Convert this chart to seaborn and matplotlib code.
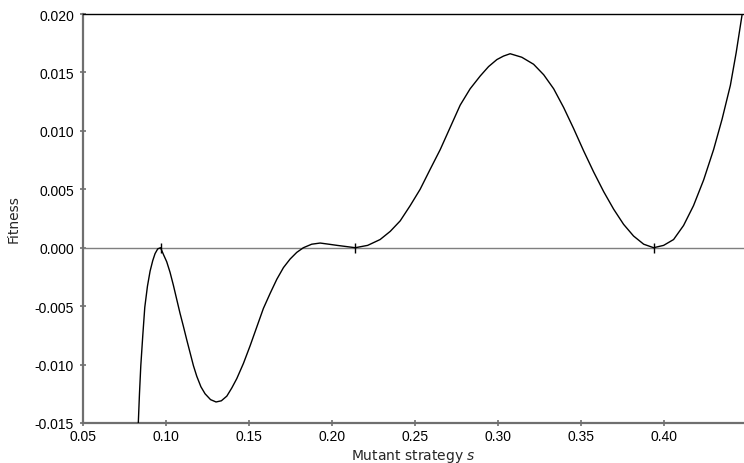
import matplotlib
matplotlib.use("Agg")
import matplotlib.pyplot as plt
import matplotlib.ticker as mticker
import seaborn as sns
import pandas as pd

# Data
strategy = [0.0833, 0.0840, 0.0848, 0.0860, 0.0872, 0.0888, 0.0904, 0.0920, 0.0934, 0.0950,
            0.0967, 0.0985, 0.1004, 0.1024, 0.1044, 0.1064, 0.1084, 0.1104, 0.1125, 0.1145,
            0.1165, 0.1185, 0.1210, 0.1235, 0.1268, 0.1301, 0.1333, 0.1366, 0.1396, 0.1426,
            0.1466, 0.1506, 0.1546, 0.1586, 0.1627, 0.1667, 0.1707, 0.1747, 0.1787, 0.1827,
            0.1877, 0.1928, 0.1980, 0.2030, 0.2085, 0.2139, 0.2214, 0.2289, 0.2350, 0.2410,
            0.2470, 0.2530, 0.2590, 0.2651, 0.2711, 0.2771, 0.2831, 0.2892, 0.2942, 0.2992,
            0.3032, 0.3072, 0.3142, 0.3213, 0.3274, 0.3334, 0.3394, 0.3454, 0.3514, 0.3574,
            0.3635, 0.3695, 0.3755, 0.3815, 0.3876, 0.3936, 0.3996, 0.4056, 0.4116, 0.4176,
            0.4237, 0.4297, 0.4348, 0.4398, 0.4433, 0.4468]
fitness = [-0.0150, -0.0125, -0.0101, -0.0075, -0.0051, -0.0033, -0.0020, -0.0011, -0.0005, -0.0001,
           0.0000, -0.0006, -0.0012, -0.0021, -0.0032, -0.0044, -0.0056, -0.0067, -0.0079, -0.0090,
           -0.0101, -0.0110, -0.0119, -0.0125, -0.0130, -0.0132, -0.0131, -0.0127, -0.0120, -0.0112,
           -0.0099, -0.0084, -0.0068, -0.0052, -0.0039, -0.0027, -0.0017, -0.00097, -0.0004, 0.0000,
           0.0003, 0.0004, 0.0003, 0.0002, 0.0001, 0.0000, 0.0002, 0.0007, 0.0014, 0.0023,
           0.0036, 0.0050, 0.0067, 0.0084, 0.0103, 0.0122, 0.0136, 0.0147, 0.0155, 0.0161,
           0.0164, 0.0166, 0.0163, 0.0157, 0.0148, 0.0136, 0.0120, 0.0102, 0.0083, 0.0065,
           0.0048, 0.0033, 0.0020, 0.0010, 0.0003, 0.0000, 0.0002, 0.0007, 0.0019, 0.0036,
           0.0058, 0.0084, 0.0110, 0.0139, 0.0167, 0.0199]
singular_points = [0.0967, 0.2139, 0.3936]
x_ticks = [0.05, 0.10, 0.15, 0.20, 0.25, 0.30, 0.35, 0.40]
y_ticks = [-0.015, -0.010, -0.005, 0.000, 0.005, 0.010, 0.015, 0.020]

df = pd.DataFrame({"s": strategy, "fitness": fitness})

sns.set_theme(style="white")
plt.rcParams["font.family"] = ["Liberation Sans", "DejaVu Sans"]

fig = plt.figure(figsize=(7.44, 4.64), dpi=100)
ax = fig.add_axes([83/744, 40/464, 1 - 83/744, (424 - 15)/464])

ax.axhline(0, color="#7f7f7f", lw=1.0, zorder=1)
sns.lineplot(data=df, x="s", y="fitness", ax=ax, color="black", lw=1.0, zorder=3)
ax.plot(singular_points, [0] * len(singular_points), linestyle="none", marker="|",
        markersize=7, markeredgewidth=1.0, color="black", zorder=4)

ax.set_xlim(0.05, 0.448)
ax.set_ylim(-0.015, 0.020)
ax.set_xticks(x_ticks)
ax.set_yticks(y_ticks)
ax.xaxis.set_major_formatter(mticker.FuncFormatter(lambda v, p: f"{v:.2f}"))
ax.yaxis.set_major_formatter(mticker.FuncFormatter(lambda v, p: f"{v:.3f}".replace("\u2212", "-")))

for side in ["left", "bottom"]:
    ax.spines[side].set_color("#6f6f6f")
    ax.spines[side].set_linewidth(1.6)
ax.spines["top"].set_color("black")
ax.spines["top"].set_linewidth(1.0)
ax.spines["right"].set_visible(False)

ax.tick_params(axis="both", which="major", direction="inout", length=5, width=1.2,
               color="#6f6f6f", labelsize=10, labelcolor="black", pad=4,
               left=True, bottom=True)
ax.tick_params(axis="x", pad=2)

ax.set_xlabel("Mutant strategy $s$", fontsize=10, family=["DejaVu Sans"], labelpad=3)
ax.set_ylabel("Fitness", fontsize=10, family=["DejaVu Sans"], labelpad=10)

fig.savefig("out.png", dpi=100)
